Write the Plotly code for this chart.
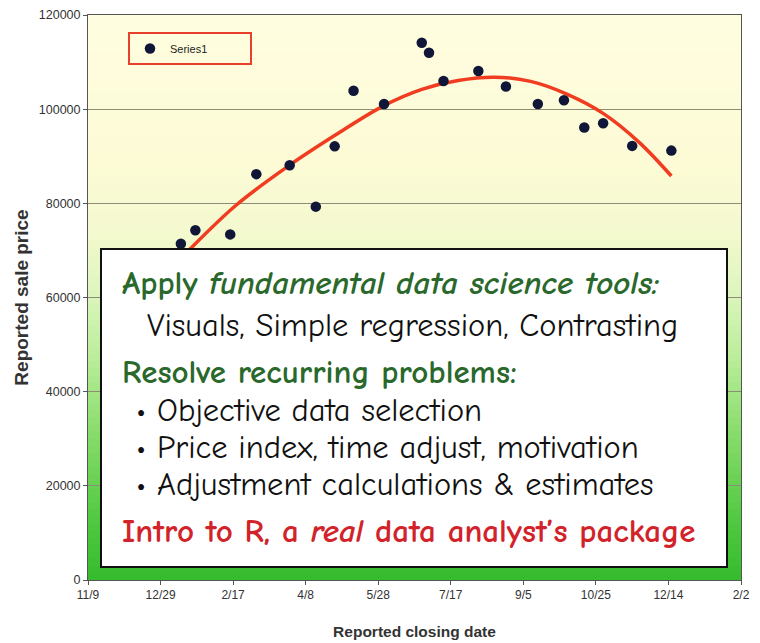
import plotly.graph_objects as go

# ---------------- data ----------------
sale_dates = ["2006-01-12", "2006-01-22", "2006-02-15", "2006-03-05", "2006-03-28",
              "2006-04-15", "2006-04-28", "2006-05-11", "2006-06-01", "2006-06-27",
              "2006-07-02", "2006-07-12", "2006-08-05", "2006-08-24", "2006-09-15",
              "2006-10-03", "2006-10-17", "2006-10-30", "2006-11-19", "2006-12-16"]
sale_prices = [71400, 74300, 73400, 86200, 88100,
               79300, 92100, 103900, 101100, 114100,
               112000, 106000, 108100, 104800, 101100,
               101900, 96100, 97000, 92200, 91200]

trend_dates = ["2006-01-12", "2006-01-18", "2006-02-19", "2006-03-27", "2006-04-29",
               "2006-05-31", "2006-06-27", "2006-07-22", "2006-08-16", "2006-09-10",
               "2006-10-05", "2006-10-30", "2006-11-24", "2006-12-16"]
trend_values = [68300, 70200, 79600, 87900, 94600,
                100600, 104200, 106100, 106800, 105900,
                103200, 99100, 92900, 85800]

x_tick_dates = ["2005-11-09", "2005-12-29", "2006-02-17", "2006-04-08", "2006-05-28",
                "2006-07-17", "2006-09-05", "2006-10-25", "2006-12-14", "2007-02-02"]
x_tick_labels = ["11/9", "12/29", "2/17", "4/8", "5/28", "7/17", "9/5", "10/25", "12/14", "2/2"]

series_name = "Series1"
x_title = "Reported closing date"
y_title = "Reported sale price"

box_lines = [
    "<b>Apply <i>fundamental data science tools:</i></b>",
    "Visuals, Simple regression, Contrasting",
    "<b>Resolve recurring problems:</b>",
    "\u2022 Objective data selection",
    "\u2022 Price index, time adjust, motivation",
    "\u2022 Adjustment calculations &amp; estimates",
    "<b>Intro to R, a <i>real</i> data analyst\u2019s package</b>",
]

# ---------------- styling ----------------
W, H = 760, 643
OFF = 8  # page body margin offset
PL, PR, PT, PB = 88, 741, 15, 580  # target plot area on screen
L, T = PL - OFF, PT - OFF
R, B = W - (PR - OFF), H - (PB - OFF)
pw, ph = PR - PL, PB - PT

def px2x(px):
    return (px - PL) / pw

def py2y(py):
    return (PB - py) / ph

LEGEND_FONT = "Liberation Sans Narrow, Arial Narrow, Liberation Sans, Arial"
TICK_FONT = "Liberation Sans, Arial"
TITLE_FONT = "Liberation Sans, Arial"
BOX_FONT = "Comic Sans MS, Comic Neue, Open Sans, sans-serif"
GREEN = "#2a682c"
RED = "#d2232a"

fig = go.Figure()

fig.add_trace(go.Scatter(
    x=trend_dates, y=trend_values, mode="lines", showlegend=False,
    line=dict(color="#f03c20", width=3.5, shape="spline", smoothing=1.0),
    hoverinfo="skip"))

fig.add_trace(go.Scatter(
    x=sale_dates, y=sale_prices, mode="markers", name=series_name,
    marker=dict(color="#0f1638", size=10.5)))

# gradient background as stacked bands (domain coordinates)
stops = [(0.00, (0x36, 0xbb, 0x2e)), (0.10, (0x4f, 0xc8, 0x40)), (0.25, (0x84, 0xdb, 0x68)),
         (0.40, (0xbd, 0xee, 0x9c)), (0.52, (0xe0, 0xf6, 0xc0)), (0.62, (0xf4, 0xf9, 0xcf)),
         (0.75, (0xfd, 0xfb, 0xd6)), (1.00, (0xfe, 0xfd, 0xe0))]

def color_at(f):
    for (f0, c0), (f1, c1) in zip(stops[:-1], stops[1:]):
        if f0 <= f <= f1:
            t = (f - f0) / (f1 - f0) if f1 > f0 else 0
            c = [round(a + (b - a) * t) for a, b in zip(c0, c1)]
            return "rgb(%d,%d,%d)" % tuple(c)
    return "rgb(%d,%d,%d)" % stops[-1][1]

n_bands = 80
shapes = []
for i in range(n_bands):
    y0 = i / n_bands
    y1 = (i + 1) / n_bands
    shapes.append(dict(type="rect", xref="x domain", yref="y domain", x0=0, x1=1,
                       y0=y0, y1=min(1, y1 + 0.002), fillcolor=color_at((y0 + y1) / 2),
                       line=dict(width=0), layer="below"))

# white text box
shapes.append(dict(type="rect", xref="x domain", yref="y domain",
                   x0=px2x(101), x1=px2x(727), y0=py2y(567), y1=py2y(249),
                   fillcolor="white", line=dict(color="#111111", width=2), layer="above"))

annotations = []
line_specs = [  # (left px, center y px, size, color)
    (120, 283, 33, GREEN),
    (145, 325, 32.5, "#111111"),
    (120, 372, 33, GREEN),
    (134, 410, 32.5, "#111111"),
    (134, 447, 32.5, "#111111"),
    (134, 484, 32.5, "#111111"),
    (120, 531, 33, RED),
]
for text, (lx, cy, sz, col) in zip(box_lines, line_specs):
    annotations.append(dict(xref="paper", yref="paper", x=px2x(lx), y=py2y(cy),
                            xanchor="left", yanchor="middle", showarrow=False,
                            text=text, font=dict(family=BOX_FONT, size=sz, color=col)))

fig.update_layout(
    width=W, height=H,
    margin=dict(l=L, r=R, t=T, b=B, autoexpand=False),
    paper_bgcolor="white",
    plot_bgcolor="#fdfbd6",
    shapes=shapes,
    annotations=annotations,
    showlegend=True,
    legend=dict(x=px2x(128), y=py2y(32), xanchor="left", yanchor="top",
                orientation="h", entrywidth=75, entrywidthmode="pixels",
                bgcolor="rgba(0,0,0,0)", bordercolor="#e8402a", borderwidth=2,
                font=dict(family=LEGEND_FONT, size=11, color="#222"),
                itemwidth=30, tracegroupgap=0),
    xaxis=dict(type="date", range=["2005-11-09", "2007-02-02"],
               tickvals=x_tick_dates, ticktext=x_tick_labels,
               showgrid=False, zeroline=False,
               showline=True, linecolor="#555555", linewidth=1, mirror=True,
               ticks="outside", ticklen=4, tickcolor="#555555",
               tickfont=dict(family=TICK_FONT, size=12, color="#333333"),
               title=dict(text="<b>" + x_title + "</b>", standoff=24,
                          font=dict(family=TITLE_FONT, size=15.5, color="#333333"))),
    yaxis=dict(range=[0, 120000], dtick=20000, tickformat="d",
               showgrid=True, gridcolor="#8c8c78", gridwidth=1, zeroline=False,
               showline=True, linecolor="#555555", linewidth=1, mirror=True,
               ticks="outside", ticklen=4, tickcolor="#555555",
               tickfont=dict(family=TICK_FONT, size=12.5, color="#333333"),
               title=dict(text="<b>" + y_title + "</b>", standoff=5,
                          font=dict(family=TITLE_FONT, size=19, color="#333333"))),
)

fig.write_html("out.html")
